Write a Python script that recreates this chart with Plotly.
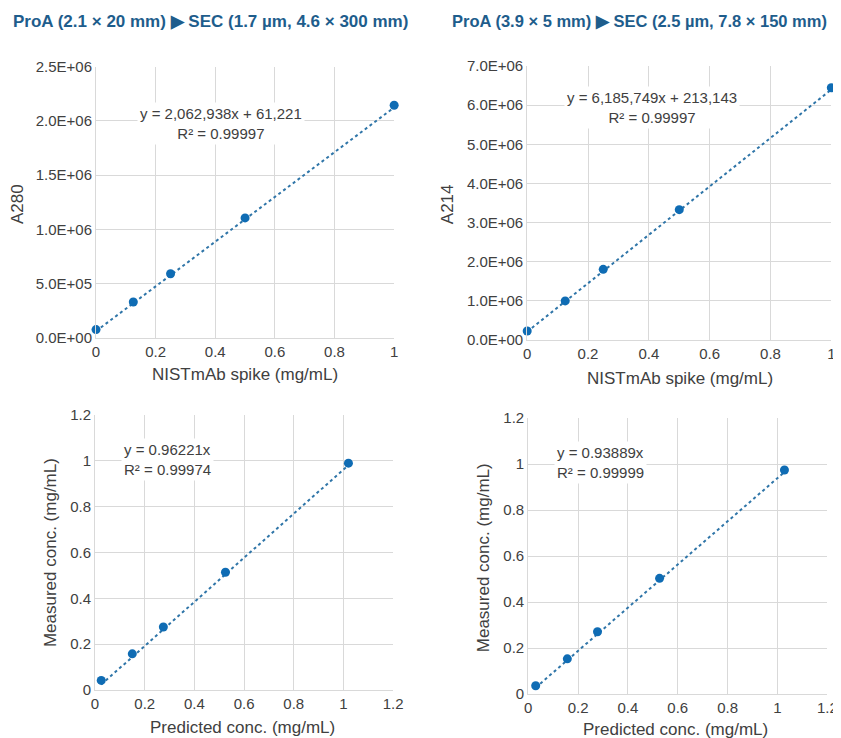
import plotly.graph_objects as go

# figure size in page pixels, and the measured page->picture mapping
W, H = 843, 742
SX, CX = 0.983, 12.0
SY, CY = 0.977, 16.0
DR = -6  # right-hand column nudged left so its right edge stays visible

# ---- data ----
spike_x = [0, 0.125, 0.25, 0.5, 1.0]
a280_y = [75000, 330000, 590000, 1105000, 2145000]
a214_y = [230000, 1000000, 1805000, 3330000, 6445000]

pred1_x = [0.025, 0.15, 0.275, 0.525, 1.02]
meas1_y = [0.042, 0.158, 0.275, 0.514, 0.99]
pred2_x = [0.03, 0.157, 0.278, 0.527, 1.028]
meas2_y = [0.036, 0.153, 0.271, 0.503, 0.974]

fit_tl = (2062938, 61221)
fit_tr = (6185749, 213143)
fit_bl = (0.96221, 0.0)
fit_br = (0.93889, 0.0)

eq_tl = "y = 2,062,938x + 61,221<br>R² = 0.99997"
eq_tr = "y = 6,185,749x + 213,143<br>R² = 0.99997"
eq_bl = "y = 0.96221x<br>R² = 0.99974"
eq_br = "y = 0.93889x<br>R² = 0.99999"

title_l = "ProA (2.1 × 20 mm) ▶ SEC (1.7 µm, 4.6 × 300 mm)"
title_r = "ProA (3.9 × 5 mm) ▶ SEC (2.5 µm, 7.8 × 150 mm)"

y_tl_ticks = [0, 500000, 1000000, 1500000, 2000000, 2500000]
y_tr_ticks = [0, 1e6, 2e6, 3e6, 4e6, 5e6, 6e6, 7e6]

# ---- style ----
MK = "#0f6cb4"
LN = "#2f75a8"
GRID = "#d9d9d9"
TXT = "#404040"
FONT = "Liberation Sans, Arial, sans-serif"

def px_x(x):
    return ((x - CX) / SX) / W

def px_y(y):
    return 1 - ((y - CY) / SY) / H

fig = go.Figure()

panels = [
    ("x", "y", spike_x, a280_y, fit_tl, (96, 394), (65.7, 336.7)),
    ("x2", "y2", spike_x, a214_y, fit_tr, (533 + DR, 831), (65, 339)),
    ("x3", "y3", pred1_x, meas1_y, fit_bl, (95, 393), (414, 689)),
    ("x4", "y4", pred2_x, meas2_y, fit_br, (534 + DR, 833 + DR), (417, 693)),
]

for xa, ya, xs, ys, fit, _, _ in panels:
    fx = [min(xs), max(xs)]
    fy = [fit[0] * v + fit[1] for v in fx]
    fig.add_trace(go.Scatter(x=fx, y=fy, mode="lines", xaxis=xa, yaxis=ya,
                             line=dict(color=LN, width=2, dash="dot"),
                             showlegend=False, hoverinfo="skip", cliponaxis=False))
    fig.add_trace(go.Scatter(x=xs, y=ys, mode="markers", xaxis=xa, yaxis=ya,
                             marker=dict(color=MK, size=9),
                             showlegend=False, cliponaxis=False))

axis_common = dict(showgrid=True, gridcolor=GRID, gridwidth=1, zeroline=False,
                   showline=True, linecolor=GRID, linewidth=1, ticks="",
                   tickfont=dict(size=15, color=TXT, family=FONT), fixedrange=True)

layout = dict(
    width=W, height=H, margin=dict(l=0, r=0, t=0, b=0),
    paper_bgcolor="white", plot_bgcolor="white",
    font=dict(family=FONT, color=TXT),
)

names = ["", "2", "3", "4"]
for i, (xa, ya, xs, ys, fit, xd, yd) in enumerate(panels):
    n = names[i]
    xdom = [max(0, px_x(xd[0])), min(1, px_x(xd[1]))]
    ydom = [max(0, px_y(yd[1])), min(1, px_y(yd[0]))]
    xaxis = dict(axis_common, domain=xdom, anchor="y" + n)
    yaxis = dict(axis_common, domain=ydom, anchor="x" + n)
    if i < 2:
        xaxis.update(range=[0, 1], dtick=0.2, tick0=0)
    else:
        xaxis.update(range=[0, 1.2], dtick=0.2, tick0=0)
    if i == 0:
        yaxis.update(range=[0, 2.5e6], tickvals=y_tl_ticks,
                     ticktext=[f"{v:.1E}" for v in y_tl_ticks])
    elif i == 1:
        yaxis.update(range=[0, 7e6], tickvals=y_tr_ticks,
                     ticktext=[f"{v:.1E}" for v in y_tr_ticks])
    else:
        yaxis.update(range=[0, 1.2], dtick=0.2, tick0=0)
    layout["xaxis" + n] = xaxis
    layout["yaxis" + n] = yaxis

fig.update_layout(**layout)

ann = []
def add_text(x, y, text, size=14, color=TXT, bold=False, rot=0, xanchor="center",
             align="center", bg=None):
    t = f"<b>{text}</b>" if bold else text
    d = dict(x=px_x(x), y=px_y(y), xref="paper", yref="paper", text=t,
             showarrow=False, font=dict(size=size, color=color, family=FONT),
             textangle=rot, xanchor=xanchor, yanchor="middle", align=align)
    if bg:
        d.update(bgcolor=bg, borderpad=2)
    ann.append(d)

# titles
add_text(210, 20, title_l, size=17, color="#1e5d8c", bold=True)
add_text(639, 20, title_r, size=16.5, color="#1e5d8c", bold=True)

# axis titles
add_text(245, 373, "NISTmAb spike (mg/mL)", size=17)
add_text(680, 377, "NISTmAb spike (mg/mL)", size=17)
add_text(242, 726, "Predicted conc. (mg/mL)", size=17)
add_text(675, 728, "Predicted conc. (mg/mL)", size=17)
add_text(17, 203, "A280", size=17, rot=-90)
add_text(453 + DR, 203, "A214", size=17, rot=-90)
add_text(50, 552, "Measured conc. (mg/mL)", size=17, rot=-90)
add_text(489 + DR, 557, "Measured conc. (mg/mL)", size=17, rot=-90)

# equations
add_text(221, 122, eq_tl, size=15, bg="white")
add_text(652, 106, eq_tr, size=15, bg="white")
add_text(121, 458, eq_bl, size=15, bg="white", xanchor="left", align="left")
add_text(560 + DR, 461, eq_br, size=15, bg="white", xanchor="left", align="left")

fig.update_layout(annotations=ann)

fig.write_html("out.html")
